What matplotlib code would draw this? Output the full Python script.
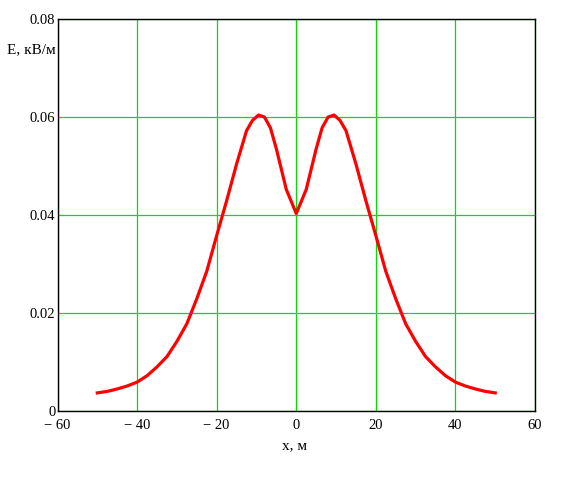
import matplotlib
matplotlib.use("Agg")
import matplotlib.pyplot as plt

# Data
x_m = [-50, -47.5, -45, -42.5, -40, -37.5, -35, -32.5, -30, -27.5, -25, -22.5,
       -20, -17.5, -15, -12.5, -11, -9.5, -8, -6.5, -5, -2.5, 0,
       2.5, 5, 6.5, 8, 9.5, 11, 12.5, 15, 17.5, 20, 22.5, 25, 27.5, 30,
       32.5, 35, 37.5, 40, 42.5, 45, 47.5, 50]
E_kV = [0.0037, 0.0040, 0.0045, 0.0051, 0.0059, 0.0072, 0.0090, 0.0111, 0.0142, 0.0178, 0.0229, 0.0285,
        0.0358, 0.0429, 0.0504, 0.0572, 0.0593, 0.0604, 0.0600, 0.0578, 0.0535, 0.0452, 0.0403,
        0.0452, 0.0535, 0.0578, 0.0600, 0.0604, 0.0593, 0.0572, 0.0504, 0.0429, 0.0358, 0.0285, 0.0229, 0.0178, 0.0142,
        0.0111, 0.0090, 0.0072, 0.0059, 0.0051, 0.0045, 0.0040, 0.0037]

x_ticks = [-60, -40, -20, 0, 20, 40, 60]
x_tick_labels = ["\u2212 60", "\u2212 40", "\u2212 20", "0", "20", "40", "60"]
y_ticks = [0, 0.02, 0.04, 0.06, 0.08]
y_tick_labels = ["0", "0.02", "0.04", "0.06", "0.08"]

plt.rcParams['font.family'] = ['Liberation Serif', 'DejaVu Serif']

fig = plt.figure(figsize=(5.82, 4.86), dpi=100)
ax = fig.add_axes([0.0988, 0.1543, 0.8205, 0.8066])

ax.set_xlim(-60, 60)
ax.set_ylim(0, 0.08)
ax.set_xticks(x_ticks)
ax.set_xticklabels(x_tick_labels)
ax.set_yticks(y_ticks)
ax.set_yticklabels(y_tick_labels)
ax.tick_params(length=0, labelsize=10.5)
ax.tick_params(axis='x', pad=6)
ax.tick_params(axis='y', pad=1.5)

ax.grid(True, color='#00e000', linewidth=0.9)
ax.set_axisbelow(True)

ax.plot(x_m, E_kV, color='#ff0000', linewidth=2.3, solid_joinstyle='round', zorder=3)

for s in ax.spines.values():
    s.set_color('black')
    s.set_linewidth(1.0)

fig.text(56 / 582, 1 - 50 / 486, "E, кВ/м", ha='right', va='center', fontsize=11)
fig.text(295 / 582, 1 - 446 / 486, "x, м", ha='center', va='center', fontsize=11)

fig.savefig("out.png", dpi=100)
